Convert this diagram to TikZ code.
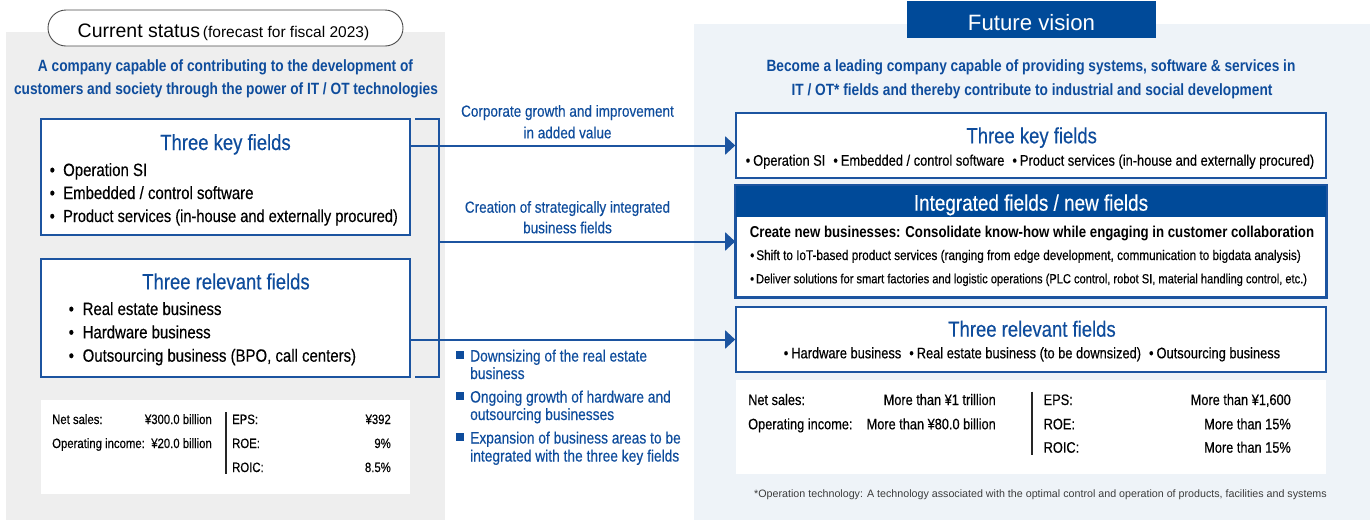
\documentclass[tikz,border=0pt]{standalone}
\usepackage{fontspec}
\setmainfont{Liberation Sans}
\newfontfamily\cnd[FakeStretch=0.84, UprightFeatures={FakeBold=0.35}]{Liberation Sans}
\usetikzlibrary{arrows.meta}
\definecolor{nblue}{RGB}{14,76,156}
\definecolor{dblue}{RGB}{0,74,153}
\definecolor{bord}{RGB}{28,84,160}
\definecolor{lgray}{RGB}{238,238,238}
\definecolor{lblue}{RGB}{238,243,248}
\definecolor{ftxt}{RGB}{60,60,60}
\newcommand\myfs[1]{\fontsize{#1}{#1}\selectfont}
\newcommand\bl[1]{\makebox[#1][l]{•}}
\begin{document}
\begin{tikzpicture}[x=1pt,y=-1pt,
  t/.style={inner sep=0, anchor=base},
  tl/.style={t, anchor=base west},
  tr/.style={t, anchor=base east},
  fbox/.style={draw=bord, line width=1.6pt, fill=white, inner sep=0},
  sbox/.style={fill=white, inner sep=0},
  title/.style={t, text=nblue, font=\cnd\myfs{22}},
  blt/.style={tl, font=\cnd\myfs{17.8}},
  head/.style={t, text=nblue, font=\cnd\bfseries\myfs{16.3}},
  mid/.style={t, text=nblue, font=\cnd\myfs{16.1}},
  midl/.style={mid, anchor=base west, font=\cnd\myfs{16.4}},
  lst/.style={tl, font=\cnd\myfs{13.5}},
  lstr/.style={tr, font=\cnd\myfs{13.5}},
  rst/.style={tl, font=\cnd\myfs{15.2}},
  rstr/.style={tr, font=\cnd\myfs{15.2}},
  conn/.style={draw=bord, line width=2pt},
  arr/.style={conn, -{Triangle[length=10pt,width=18pt]}},
  sq/.style={fill=nblue, inner sep=0, minimum size=8pt},
]
\useasboundingbox (0,0) rectangle (1370,520);
% panels
\fill[lgray] (6,32) rectangle (445,520);
\fill[lblue] (694,24) rectangle (1370,520);

% ---------- left ----------
\node[draw=black!70, line width=0.9pt, fill=white, rounded corners=18pt, minimum width=355pt, minimum height=36pt, inner sep=0] (pill) at (225.5,28) {};
\node[t] (pilltxt) at (223.5,37.5) {{\myfs{19.5}Current status} {\myfs{15.5}(forecast for fiscal 2023)}};

\node[head] (lh1) at (225.5,71.7) {A company capable of contributing to the development of};
\node[head] (lh2) at (226,94.5) {customers and society through the power of IT / OT technologies};

\node[fbox, minimum width=369pt, minimum height=116pt] (lkey) at (225.5,177) {};
\node[title] (lkeyt) at (225.5,150) {Three key fields};
\node[blt] (lk1) at (49.5,176) {\bl{13.5pt}Operation SI};
\node[blt] (lk2) at (49.5,199) {\bl{13.5pt}Embedded / control software};
\node[blt, font=\cnd\myfs{17.4}] (lk3) at (49.5,222) {\bl{13.5pt}Product services (in-house and externally procured)};

\node[fbox, minimum width=369pt, minimum height=118pt] (lrel) at (225.5,318) {};
\node[title] (lrelt) at (226,289.3) {Three relevant fields};
\node[blt] (lr1) at (68.5,315) {\bl{14pt}Real estate business};
\node[blt] (lr2) at (68.5,338.3) {\bl{14pt}Hardware business};
\node[blt] (lr3) at (68.5,361.7) {\bl{14pt}Outsourcing business (BPO, call centers)};

\node[sbox, minimum width=369pt, minimum height=94pt] (lstat) at (225.5,447) {};
\node[lst] (ls1) at (52,424) {Net sales:};
\node[lstr] (ls1v) at (212,424) {¥300.0 billion};
\node[lst] (ls2) at (52,448) {Operating income:};
\node[lstr] (ls2v) at (212,448) {¥20.0 billion};
\coordinate (ldivt) at (226,412);
\coordinate (ldivb) at (226,474);
\draw[black!85, line width=1.2pt] (ldivt) -- (ldivb);
\node[lst] (ls3) at (232,424) {EPS:};
\node[lstr] (ls3v) at (391,424) {¥392};
\node[lst] (ls4) at (232,448) {ROE:};
\node[lstr] (ls4v) at (391,448) {9\%};
\node[lst] (ls5) at (232,472) {ROIC:};
\node[lstr] (ls5v) at (391,472) {8.5\%};

% ---------- middle ----------
\node[mid] (m1a) at (567.5,116.7) {Corporate growth and improvement};
\node[mid] (m1b) at (567.5,138.3) {in added value};
\node[mid] (m2a) at (567.5,212.7) {Creation of strategically integrated};
\node[mid] (m2b) at (567.5,233.3) {business fields};

\node[sq] (sq1) at (460,355) {};
\node[midl] (b1a) at (470,361.5) {Downsizing of the real estate};
\node[midl] (b1b) at (470,379) {business};
\node[sq] (sq2) at (460,396) {};
\node[midl] (b2a) at (470,402.5) {Ongoing growth of hardware and};
\node[midl] (b2b) at (470,420) {outsourcing businesses};
\node[sq] (sq3) at (460,437) {};
\node[midl] (b3a) at (470,443.5) {Expansion of business areas to be};
\node[midl] (b3b) at (470,461.5) {integrated with the three key fields};

% ---------- right ----------
\node[fill=dblue, minimum width=249pt, minimum height=37pt, inner sep=0] (fv) at (1031.5,19.5) {};
\node[t, text=white, font=\myfs{22.2}] (fvt) at (1031.5,30) {Future vision};

\node[head] (rh1) at (1031,71.7) {Become a leading company capable of providing systems, software \& services in};
\node[head] (rh2) at (1032,95.7) {IT / OT* fields and thereby contribute to industrial and social development};

\node[fbox, minimum width=590pt, minimum height=65pt] (rkey) at (1031,145.5) {};
\node[title] (rkeyt) at (1031.7,143.3) {Three key fields};
\node[t, font=\cnd\myfs{15.3}] (rkb) at (1030,165.7) {•\hspace{3pt}Operation SI\hspace{8pt}•\hspace{3pt}Embedded / control software\hspace{8pt}•\hspace{3pt}Product services (in-house and externally procured)};

\node[fbox, minimum width=590pt, minimum height=111pt] (integ) at (1031,241.5) {};
\fill[dblue] (integ.north west) rectangle (1326.8,217);
\draw[bord, line width=1.6pt] (integ.north west) rectangle (integ.south east);
\node[t, text=white, font=\cnd\myfs{22.5}] (integt) at (1031,210.7) {Integrated fields / new fields};
\node[tl, font=\cnd\bfseries\myfs{15.75}] (ib0) at (749.6,237.7) {Create new businesses: Consolidate know-how while engaging in customer collaboration};
\node[tl, font=\cnd\myfs{14}] (ib1) at (750,260) {•\hspace{2pt}Shift to IoT-based product services (ranging from edge development, communication to bigdata analysis)};
\node[tl, font=\cnd\myfs{13.2}] (ib2) at (750,283.3) {•\hspace{2pt}Deliver solutions for smart factories and logistic operations (PLC control, robot SI, material handling control, etc.)};

\node[fbox, minimum width=590pt, minimum height=65pt] (rrel) at (1031,339.5) {};
\node[title] (rrelt) at (1032,336.7) {Three relevant fields};
\node[t, font=\cnd\myfs{15.3}] (rrb) at (1032,358.3) {•\hspace{3pt}Hardware business\hspace{8pt}•\hspace{3pt}Real estate business (to be downsized)\hspace{8pt}•\hspace{3pt}Outsourcing business};

\node[sbox, minimum width=590pt, minimum height=94pt] (rstat) at (1031,427) {};
\node[rst] (rs1) at (748,405) {Net sales:};
\node[rstr] (rs1v) at (996,405) {More than ¥1 trillion};
\node[rst] (rs2) at (748,429.3) {Operating income:};
\node[rstr] (rs2v) at (996,429.3) {More than ¥80.0 billion};
\coordinate (rdivt) at (1032,391.7);
\coordinate (rdivb) at (1032,455);
\draw[black!85, line width=1.2pt] (rdivt) -- (rdivb);
\node[rst] (rs3) at (1043.5,405) {EPS:};
\node[rstr] (rs3v) at (1291,405) {More than ¥1,600};
\node[rst] (rs4) at (1043.5,429.3) {ROE:};
\node[rstr] (rs4v) at (1291,429.3) {More than 15\%};
\node[rst] (rs5) at (1043.5,452.7) {ROIC:};
\node[rstr] (rs5v) at (1291,452.7) {More than 15\%};

\node[tr, text=ftxt, font=\myfs{10.7}] (fn) at (1327,497.3) {*Operation technology: A technology associated with the optimal control and operation of products, facilities and systems};

% ---------- connectors ----------
\coordinate (bt) at (415,119);
\coordinate (bb) at (415,377);
\coordinate (bx) at (439,242);
\draw[conn] (bt) -- ++(24,0) |- (bb);
\draw[arr] (lkey.east |- rkey.west) -- (rkey.west);
\draw[arr] (bx |- integ.west) -- (integ.west);
\draw[arr] (lrel.east |- rrel.west) -- (rrel.west);
\end{tikzpicture}
\end{document}
